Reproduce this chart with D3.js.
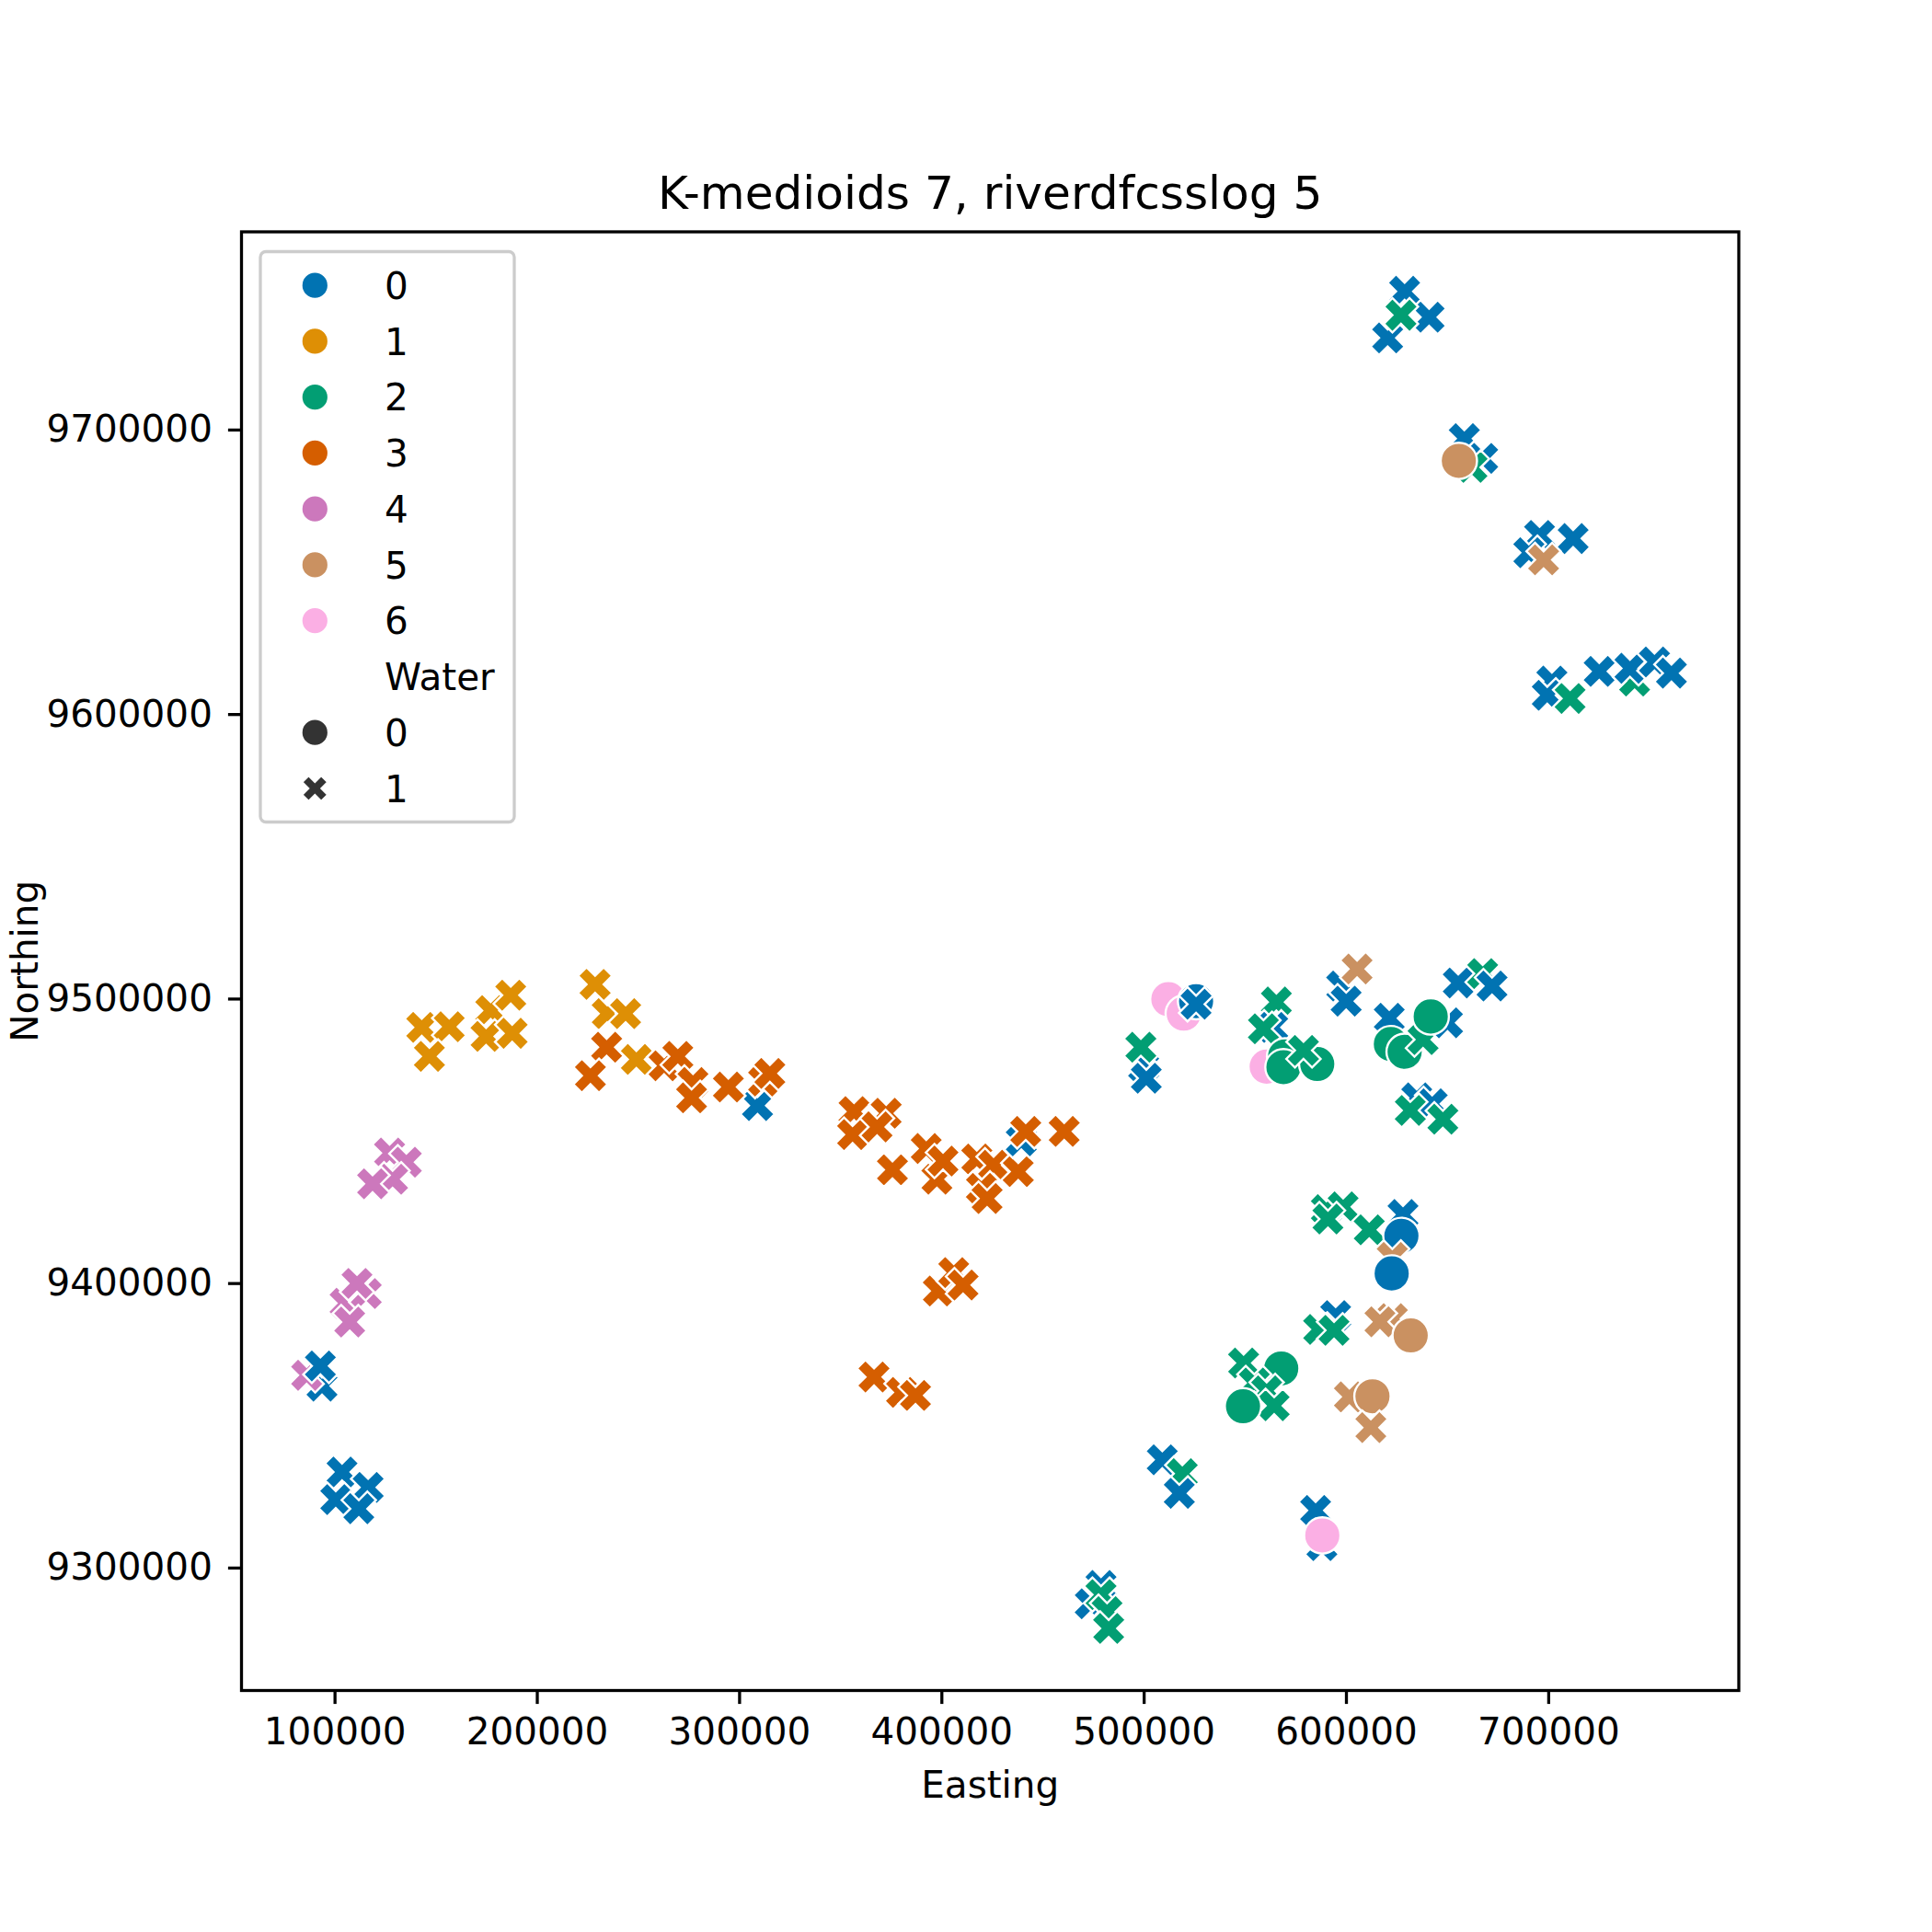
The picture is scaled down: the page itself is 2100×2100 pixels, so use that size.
<!DOCTYPE html>
<html>
<head>
<meta charset="utf-8">
<script src="https://cdn.jsdelivr.net/npm/d3@7"></script>
<style>
  html, body { margin: 0; padding: 0; background: #fff; }
  svg { display: block; }
  text { font-family: "DejaVu Sans", sans-serif; fill: #000; }
</style>
</head>
<body>
<script>
// ---- data ----
const cluster = [
  0,0,0,2,
  0,0,2,5,
  0,0,0,5,
  0,0,2,2,0,0,0,0,
  6,6,0,0,0,0,2,2,0,2,6,2,2,2,2,0,0,5,0,2,2,2,0,2,0,2,0,0,0,2,2,
  2,2,2,2,0,0,5,0,0,2,2,5,5,5,
  2,2,2,2,2,2,5,5,5,0,2,0,0,0,6,0,0,2,2,2,
  0,1,1,1,1,1,1,1,1,1,1,3,3,1,3,3,3,3,3,3,3,
  4,4,4,4,4,4,4,4,0,4,0,0,0,0,0,
  3,3,3,3,3,3,3,3,3,3,3,3,3,0,3,3,
  3,3,3,3,3,3
];
const water = [
  1,1,1,1,
  1,1,1,0,
  1,1,1,1,
  1,1,1,1,1,1,1,1,
  0,0,0,1,1,1,1,1,1,1,0,0,0,0,1,1,1,1,1,0,0,1,1,0,1,1,1,1,1,1,1,
  1,1,1,1,1,0,1,0,1,1,1,1,1,0,
  1,0,1,1,1,0,1,0,1,1,1,1,1,1,0,1,1,1,1,1,
  1,1,1,1,1,1,1,1,1,1,1,1,1,1,1,1,1,1,1,1,1,
  1,1,1,1,1,1,1,1,1,1,1,1,1,1,1,
  1,1,1,1,1,1,1,1,1,1,1,1,1,1,1,1,
  1,1,1,1,1,1
];
const easting = [
  629000,620600,641100,627200,
  658500,667600,662300,655800,
  695700,690400,712300,697700,
  701800,699500,710800,742700,725200,740400,752500,760900,
  512200,519800,525900,525900,500000,501300,498600,565600,563800,559200,560800,569900,569100,585800,579000,597900,600100,605500,621400,622200,629000,638100,650200,641900,655500,667600,672200,635000,642600,631800,647900,
  590300,598600,591100,611500,628200,627400,622900,622600,594900,586500,594100,622900,616800,632000,
  549400,568000,554700,560800,564500,549100,601700,613100,612300,509200,519100,517600,585000,588100,588300,478900,473600,478900,481900,482700,
  309100,143100,156700,146900,177200,187100,174900,187800,228800,234800,243900,234500,226500,249200,262900,269700,277200,276500,294700,312100,315200,
  127200,135500,128700,118800,105200,115700,107500,111100,93800,86200,93000,103700,116600,100600,112000,
  356800,372700,356100,368200,375800,392500,397800,400800,417500,425800,419800,422600,438000,439500,441700,460700,
  398500,406100,410700,366700,380300,387200
];
const northing = [
  9748600,9732200,9739500,9740200,
  9696800,9689900,9686700,9689000,
  9662800,9656700,9661700,9654200,
  9611600,9606600,9605500,9611600,9615000,9616100,9618300,9614400,
  9499800,9494700,9499100,9498000,9475900,9472000,9482900,9498800,9489900,9489400,9476100,9479700,9475900,9477000,9481800,9504400,9499100,9510400,9493100,9484000,9481300,9485600,9491500,9493700,9505500,9508800,9504400,9465100,9463000,9460700,9457600,
  9425800,9426800,9422500,9418700,9424100,9416600,9409000,9403400,9388600,9383700,9383400,9387500,9386400,9381600,
  9371900,9370000,9364900,9362100,9356900,9356700,9360000,9360200,9349200,9337900,9333000,9326100,9320100,9307700,9311300,9293700,9287300,9290500,9284500,9278600,
  9462400,9489900,9490100,9479700,9495800,9501200,9486700,9487800,9505000,9494700,9494700,9482900,9472900,9478600,9476400,9479700,9470500,9465100,9468900,9471000,9473700,
  9445700,9442500,9436500,9434900,9392900,9396300,9386300,9399900,9363800,9367600,9370900,9333600,9328200,9323900,9320700,
  9460300,9459700,9452200,9454900,9439800,9447300,9436500,9442900,9443600,9441400,9433300,9429700,9439200,9450000,9453300,9453300,
  9397200,9403700,9399300,9367000,9361600,9360500
];
const clusterLabels = ["0", "1", "2", "3", "4", "5", "6"];
const waterLabels = ["0", "1"];
const palette = ["#0173b2", "#de8f05", "#029e73", "#d55e00", "#cc78bc", "#ca9161", "#fbafe4"];
const xTicks = [100000, 200000, 300000, 400000, 500000, 600000, 700000];
const yTicks = [9300000, 9400000, 9500000, 9600000, 9700000];
const titleText = "K-medioids 7, riverdfcsslog 5";
const xLabel = "Easting";
const yLabel = "Northing";
const legendTitle = "Water";

// ---- layout ----
const W = 2100, H = 2100;
const pL = 262.5, pR = 1890, pT = 252, pB = 1837.5;
const FS = 40.5;

const svg = d3.select("body").append("svg").attr("width", W).attr("height", H);
svg.append("rect").attr("width", W).attr("height", H).attr("fill", "#fff");

const xs = d3.scaleLinear().domain([54000, 794200]).range([pL, pR]);
const ys = d3.scaleLinear().domain([9256800, 9769500]).range([pB, pT]);
const color = d3.scaleOrdinal().domain(d3.range(7)).range(palette);

// marker shapes
const markerSize = 39.5;
function xPath(size) {
  const pts = [[-1,-3],[1,-3],[1,-1],[3,-1],[3,1],[1,1],[1,3],[-1,3],[-1,1],[-3,1],[-3,-1],[-1,-1]];
  const s = size / 6;
  const r = pts.map(([a, b]) => [((a - b) / Math.SQRT2) * s, ((a + b) / Math.SQRT2) * s]);
  return "M" + r.map(p => p[0].toFixed(2) + "," + p[1].toFixed(2)).join("L") + "Z";
}
function circlePath(size) {
  const r = size / 2;
  return `M${r},0A${r},${r} 0 1,1 ${-r},0A${r},${r} 0 1,1 ${r},0Z`;
}

// data
const data = easting.map((e, i) => ({ e, n: northing[i], c: cluster[i], w: water[i] }));

svg.append("g")
  .selectAll("path")
  .data(data)
  .join("path")
  .attr("transform", d => `translate(${xs(d.e)},${ys(d.n)})`)
  .attr("d", d => d.w === 1 ? xPath(markerSize) : circlePath(markerSize))
  .attr("fill", d => color(d.c))
  .attr("stroke", "#fff")
  .attr("stroke-width", 2.4)
  .attr("stroke-linejoin", "miter");

// axes
const xAxis = d3.axisBottom(xs).tickValues(xTicks).tickFormat(d3.format("d")).tickSize(14.6).tickPadding(15);
const gx = svg.append("g").attr("transform", `translate(0,${pB})`).call(xAxis);
const yAxis = d3.axisLeft(ys).tickValues(yTicks).tickFormat(d3.format("d")).tickSize(14.6).tickPadding(17);
const gy = svg.append("g").attr("transform", `translate(${pL},0)`).call(yAxis);
[gx, gy].forEach(g => {
  g.select(".domain").remove();
  g.selectAll(".tick line").attr("stroke", "#000").attr("stroke-width", 3.3);
  g.selectAll(".tick text").attr("font-size", FS).attr("font-family", "DejaVu Sans").attr("fill", "#000");
});

// frame
svg.append("rect")
  .attr("x", pL).attr("y", pT)
  .attr("width", pR - pL).attr("height", pB - pT)
  .attr("fill", "none").attr("stroke", "#000").attr("stroke-width", 3.3);

// title & labels
svg.append("text").attr("x", (pL + pR) / 2).attr("y", 227)
  .attr("text-anchor", "middle").attr("font-size", 50.2).text(titleText);
svg.append("text").attr("x", (pL + pR) / 2).attr("y", 1954)
  .attr("text-anchor", "middle").attr("font-size", FS).text(xLabel);
svg.append("text").attr("transform", `translate(41,${(pT + pB) / 2}) rotate(-90)`)
  .attr("text-anchor", "middle").attr("font-size", FS).text(yLabel);

// legend
const lg = svg.append("g");
lg.append("rect").attr("x", 283).attr("y", 273.5).attr("width", 276).attr("height", 620)
  .attr("rx", 6).attr("fill", "#fff").attr("fill-opacity", 0.8)
  .attr("stroke", "#cccccc").attr("stroke-width", 3.3);
const rowY0 = 310.2, rowDy = 60.75, mx = 342.3, tx = 418;
const legendMarker = 29;
clusterLabels.forEach((lab, i) => {
  const yy = rowY0 + i * rowDy;
  lg.append("path").attr("transform", `translate(${mx},${yy})`)
    .attr("d", circlePath(legendMarker)).attr("fill", palette[i]).attr("stroke", "#fff").attr("stroke-width", 1.8);
  lg.append("text").attr("x", tx).attr("y", yy + 0.36 * FS).attr("font-size", FS).text(lab);
});
{
  const yy = rowY0 + 7 * rowDy;
  lg.append("text").attr("x", tx).attr("y", yy + 0.36 * FS).attr("font-size", FS).text(legendTitle);
}
waterLabels.forEach((lab, i) => {
  const yy = rowY0 + (8 + i) * rowDy;
  lg.append("path").attr("transform", `translate(${mx},${yy})`)
    .attr("d", i === 0 ? circlePath(legendMarker) : xPath(legendMarker))
    .attr("fill", "#333333").attr("stroke", "#fff").attr("stroke-width", 1.8);
  lg.append("text").attr("x", tx).attr("y", yy + 0.36 * FS).attr("font-size", FS).text(lab);
});
</script>
</body>
</html>
